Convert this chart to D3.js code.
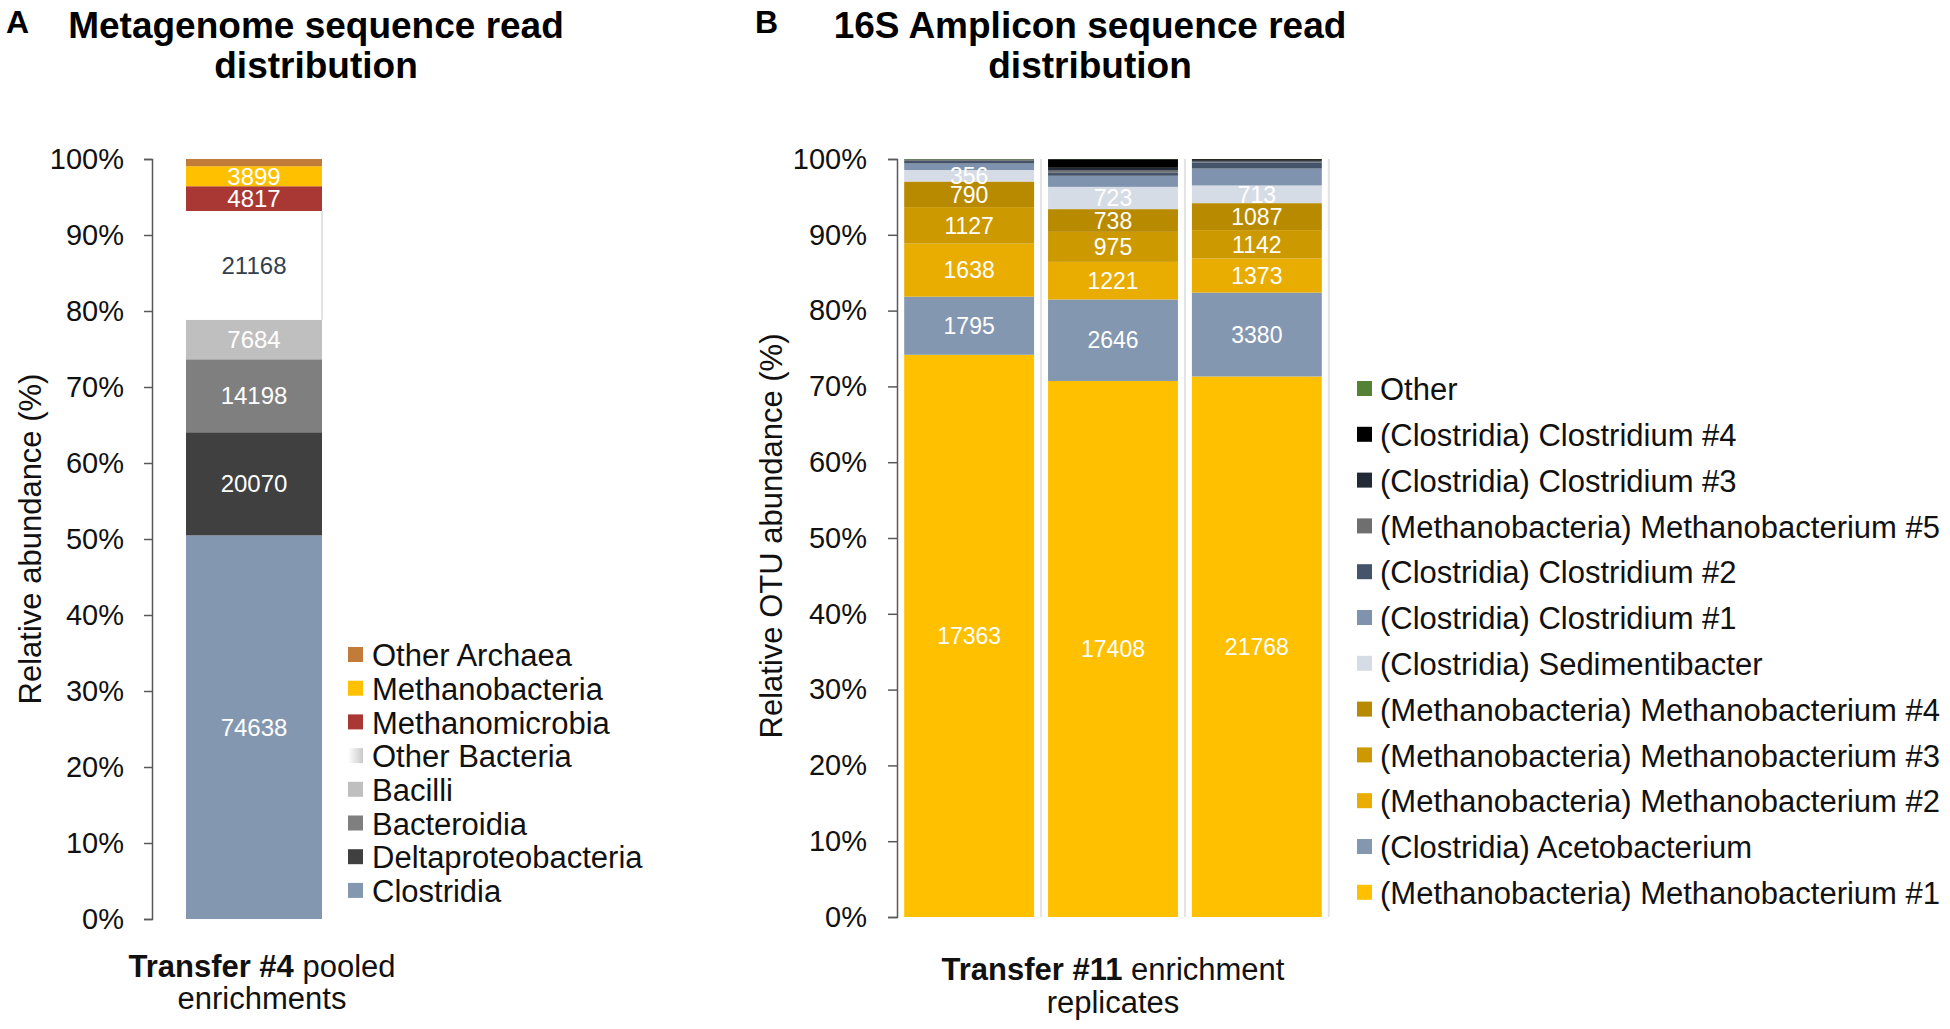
<!DOCTYPE html>
<html>
<head>
<meta charset="utf-8">
<script src="https://cdn.jsdelivr.net/npm/d3@7"></script>
<style>
  body { margin: 0; background: #fff; }
  text { font-family: "Liberation Sans", Arial, Helvetica, sans-serif; }
</style>
</head>
<body>
<div id="chart"></div>
<script>
// ---- Panel A: metagenome reads (stack order, bottom to top)
const aTaxa = ["Clostridia", "Deltaproteobacteria", "Bacteroidia", "Bacilli",
               "Other Bacteria", "Methanomicrobia", "Methanobacteria", "Other Archaea"];
const aReads = [74638, 20070, 14198, 7684, 21168, 4817, 3899, 1400];
const aSample = "Transfer #4";

// ---- Panel B: 16S amplicon reads per replicate (stack order, bottom to top)
const bReplicates = ["Rep 1", "Rep 2", "Rep 3"];
const bTaxa = ["(Methanobacteria) Methanobacterium #1", "(Clostridia) Acetobacterium",
               "(Methanobacteria) Methanobacterium #2", "(Methanobacteria) Methanobacterium #3",
               "(Methanobacteria) Methanobacterium #4", "(Clostridia) Sedimentibacter",
               "(Clostridia) Clostridium #1", "(Clostridia) Clostridium #2",
               "(Methanobacteria) Methanobacterium #5", "(Clostridia) Clostridium #3",
               "(Clostridia) Clostridium #4", "Other"];
const mb1   = [17363, 17408, 21768];
const aceto = [1795, 2646, 3380];
const mb2   = [1638, 1221, 1373];
const mb3   = [1127, 975, 1142];
const mb4   = [790, 738, 1087];
const sedi  = [356, 723, 713];
const clo1  = [200, 360, 680];
const clo2  = [80, 110, 250];
const mb5   = [20, 60, 30];
const clo3  = [20, 90, 60];
const clo4  = [10, 280, 40];
const other = [10, 5, 5];
const bSeries = [mb1, aceto, mb2, mb3, mb4, sedi, clo1, clo2, mb5, clo3, clo4, other];
const bLabelled = 6;   // only the first six taxa carry read counts in the bars

const yTicks = [0, 0.1, 0.2, 0.3, 0.4, 0.5, 0.6, 0.7, 0.8, 0.9, 1];

// colours
const aColor = d3.scaleOrdinal().domain(aTaxa)
  .range(["#8497b0", "#404040", "#7f7f7f", "#bfbfbf", "#ffffff", "#a93834", "#ffc000", "#c27b38"]);
const bColor = d3.scaleOrdinal().domain(bTaxa)
  .range(["#ffc000", "#8497b0", "#e8ad00", "#cc9900", "#b88a00", "#d6dce5",
          "#7f93ae", "#44546a", "#6f6f6f", "#222a35", "#000000", "#548235"]);

const svg = d3.select("#chart").append("svg")
  .attr("width", 1950)
  .attr("height", 1029);

const defs = svg.append("defs");
const grad = defs.append("linearGradient").attr("id", "otherBact");
grad.append("stop").attr("offset", "0%").attr("stop-color", "#ffffff");
grad.append("stop").attr("offset", "100%").attr("stop-color", "#c9c9c9");

function styleAxis(g) {
  g.select(".domain").attr("stroke", "#595959").attr("stroke-width", 1.5);
  g.selectAll(".tick line").attr("stroke", "#595959").attr("stroke-width", 1.5);
  g.selectAll(".tick text").style("font-size", "29px").attr("fill", "#111");
}

// ================= Panel A =================
const yA = d3.scaleLinear().domain([0, 1]).range([919, 159]);
const xA = d3.scaleBand().domain([aSample]).range([152, 356]).paddingInner(0).paddingOuter(0.25);

const aRow = {sample: aSample};
aTaxa.forEach((t, i) => aRow[t] = aReads[i]);
const aStack = d3.stack().keys(aTaxa).offset(d3.stackOffsetExpand)([aRow]);

const gA = svg.append("g");
gA.selectAll("g.layer")
  .data(aStack)
  .join("g")
  .attr("class", "layer")
  .each(function (layer) {
    const d = layer[0];
    const sel = d3.select(this);
    sel.append("rect")
      .attr("x", xA(aSample))
      .attr("width", xA.bandwidth())
      .attr("y", yA(d[1]))
      .attr("height", yA(d[0]) - yA(d[1]))
      .attr("fill", aColor(layer.key));
    if (layer.key === "Other Bacteria") {
      // faint edge on the white segment
      sel.append("line")
        .attr("x1", xA(aSample) + xA.bandwidth()).attr("x2", xA(aSample) + xA.bandwidth())
        .attr("y1", yA(d[1])).attr("y2", yA(d[0]))
        .attr("stroke", "#e2e2e2").attr("stroke-width", 2);
    }
    if (layer.key !== "Other Archaea") {
      sel.append("text")
        .attr("x", xA(aSample) + xA.bandwidth() / 2)
        .attr("y", (yA(d[0]) + yA(d[1])) / 2)
        .attr("dy", "0.36em")
        .attr("text-anchor", "middle")
        .style("font-size", "24px")
        .attr("fill", layer.key === "Other Bacteria" ? "#333f50" : "#ffffff")
        .text(aReads[layer.index]);
    }
  });

gA.append("g")
  .attr("transform", "translate(152,0)")
  .call(d3.axisLeft(yA).tickValues(yTicks).tickFormat(d3.format(".0%")).tickSize(8).tickPadding(20))
  .call(styleAxis);

// legend A (top entry is last stacked)
const legA = gA.append("g").attr("transform", "translate(348,655)");
aTaxa.slice().reverse().forEach((t, i) => {
  const row = legA.append("g").attr("transform", `translate(0, ${i * 33.7})`);
  row.append("rect").attr("x", 0).attr("y", -8).attr("width", 15).attr("height", 15)
    .attr("fill", t === "Other Bacteria" ? "url(#otherBact)" : aColor(t));
  row.append("text").attr("x", 24).attr("dy", "0.36em").style("font-size", "31px").attr("fill", "#111").text(t);
});

// titles A
svg.append("text").attr("x", 6).attr("y", 33).style("font-size", "32px").style("font-weight", "bold").text("A");
svg.append("text").attr("x", 316).attr("y", 38).attr("text-anchor", "middle")
  .style("font-size", "37px").style("font-weight", "bold").text("Metagenome sequence read");
svg.append("text").attr("x", 316).attr("y", 78).attr("text-anchor", "middle")
  .style("font-size", "37px").style("font-weight", "bold").text("distribution");

svg.append("text")
  .attr("transform", "translate(30,539) rotate(-90)")
  .attr("dy", "0.36em")
  .attr("text-anchor", "middle")
  .style("font-size", "31px")
  .attr("fill", "#111")
  .text("Relative abundance (%)");

const xlabA = svg.append("text").attr("x", 262).attr("y", 977).attr("text-anchor", "middle")
  .style("font-size", "31px").attr("fill", "#111");
xlabA.append("tspan").style("font-weight", "bold").text("Transfer #4");
xlabA.append("tspan").text(" pooled");
svg.append("text").attr("x", 262).attr("y", 1009).attr("text-anchor", "middle")
  .style("font-size", "31px").attr("fill", "#111").text("enrichments");

// ================= Panel B =================
const yB = d3.scaleLinear().domain([0, 1]).range([917, 159]);
const xB = d3.scaleBand().domain(bReplicates).range([897, 1329]).paddingInner(0.097).paddingOuter(0.05);

const bRows = bReplicates.map((r, i) => {
  const row = {sample: r};
  bTaxa.forEach((t, k) => row[t] = bSeries[k][i]);
  return row;
});
const bStack = d3.stack().keys(bTaxa).offset(d3.stackOffsetExpand)(bRows);

const gB = svg.append("g");

// faint separators between replicate columns
gB.selectAll("line.sep")
  .data(bReplicates)
  .join("line")
  .attr("class", "sep")
  .attr("x1", d => xB(d) + xB.bandwidth() + xB.step() * xB.paddingInner() / 2)
  .attr("x2", d => xB(d) + xB.bandwidth() + xB.step() * xB.paddingInner() / 2)
  .attr("y1", yB(1))
  .attr("y2", yB(0))
  .attr("stroke", "#e3e3e3")
  .attr("stroke-width", 2);

gB.selectAll("g.layer")
  .data(bStack)
  .join("g")
  .attr("class", "layer")
  .attr("fill", d => bColor(d.key))
  .selectAll("rect")
  .data(d => d)
  .join("rect")
  .attr("x", d => xB(d.data.sample))
  .attr("width", xB.bandwidth())
  .attr("y", d => yB(d[1]))
  .attr("height", d => yB(d[0]) - yB(d[1]));

gB.selectAll("g.lab")
  .data(bStack.slice(0, bLabelled))
  .join("g")
  .attr("class", "lab")
  .selectAll("text")
  .data(d => d.map((v, i) => ({v, n: bSeries[d.index][i]})))
  .join("text")
  .attr("x", d => xB(d.v.data.sample) + xB.bandwidth() / 2)
  .attr("y", d => (yB(d.v[0]) + yB(d.v[1])) / 2)
  .attr("dy", "0.36em")
  .attr("text-anchor", "middle")
  .style("font-size", "23px")
  .attr("fill", "#ffffff")
  .text(d => d.n);

gB.append("g")
  .attr("transform", "translate(897,0)")
  .call(d3.axisLeft(yB).tickValues(yTicks).tickFormat(d3.format(".0%")).tickSize(9).tickPadding(21))
  .call(styleAxis);

// legend B
const legB = gB.append("g").attr("transform", "translate(1357,389)");
bTaxa.slice().reverse().forEach((t, i) => {
  const row = legB.append("g").attr("transform", `translate(0, ${i * 45.8})`);
  row.append("rect").attr("x", 0).attr("y", -8).attr("width", 15).attr("height", 15).attr("fill", bColor(t));
  row.append("text").attr("x", 23).attr("dy", "0.36em").style("font-size", "31px").attr("fill", "#111").text(t);
});

svg.append("text").attr("x", 755).attr("y", 33).style("font-size", "32px").style("font-weight", "bold").text("B");
svg.append("text").attr("x", 1090).attr("y", 38).attr("text-anchor", "middle")
  .style("font-size", "37px").style("font-weight", "bold").text("16S Amplicon sequence read");
svg.append("text").attr("x", 1090).attr("y", 78).attr("text-anchor", "middle")
  .style("font-size", "37px").style("font-weight", "bold").text("distribution");

svg.append("text")
  .attr("transform", "translate(771,536) rotate(-90)")
  .attr("dy", "0.36em")
  .attr("text-anchor", "middle")
  .style("font-size", "31px")
  .attr("fill", "#111")
  .text("Relative OTU abundance (%)");

const xlabB = svg.append("text").attr("x", 1113).attr("y", 980).attr("text-anchor", "middle")
  .style("font-size", "31px").attr("fill", "#111");
xlabB.append("tspan").style("font-weight", "bold").text("Transfer #11");
xlabB.append("tspan").text(" enrichment");
svg.append("text").attr("x", 1113).attr("y", 1013).attr("text-anchor", "middle")
  .style("font-size", "31px").attr("fill", "#111").text("replicates");
</script>
</body>
</html>
